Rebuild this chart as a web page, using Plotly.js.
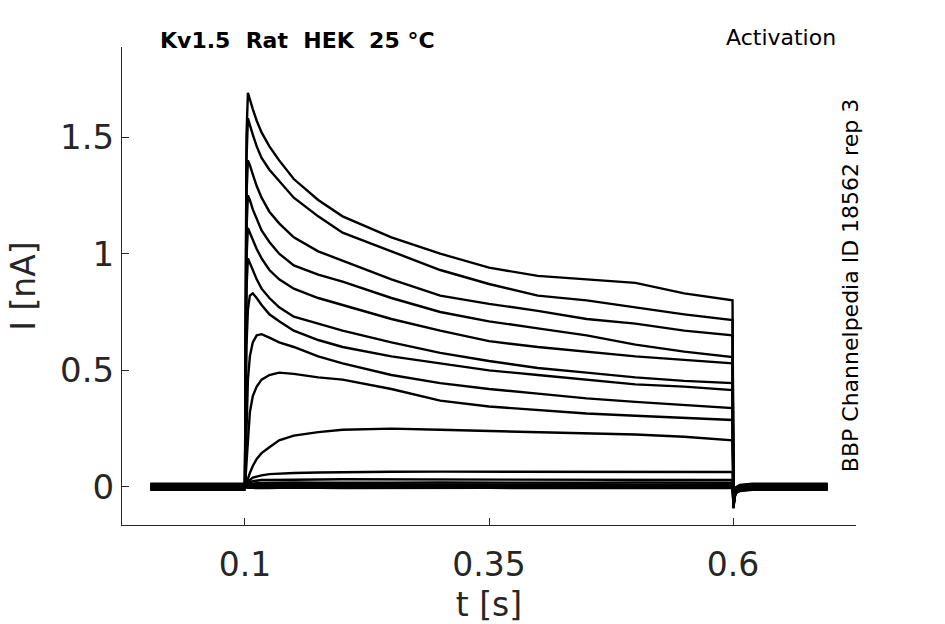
<!DOCTYPE html>
<html>
<head>
<meta charset="utf-8">
<script src="https://cdn.plot.ly/plotly-3.0.1.min.js"></script>
<style>html,body{margin:0;padding:0;background:#fff;}#chart{width:945px;height:624px;}</style>
</head>
<body>
<div id="chart"></div>
<script>
// time points (s)
var tPre = [0.003, 0.02, 0.04, 0.06, 0.08, 0.0995];
var tOn = [0.1, 0.1015, 0.103, 0.105, 0.108, 0.112, 0.117, 0.125, 0.135, 0.15, 0.175, 0.2, 0.25, 0.3, 0.35, 0.4, 0.45, 0.5, 0.55, 0.5995];
var tPost = [0.6005, 0.6015, 0.603, 0.607, 0.62, 0.65, 0.68, 0.697];

// currents during the step (nA), one array per sweep
var sweep1  = [0, 1.50, 1.69, 1.66, 1.62, 1.57, 1.52, 1.46, 1.40, 1.32, 1.23, 1.16, 1.07, 1.00, 0.94, 0.905, 0.89, 0.875, 0.83, 0.80];
var sweep2  = [0, 1.40, 1.58, 1.55, 1.51, 1.46, 1.41, 1.36, 1.31, 1.24, 1.16, 1.09, 1.01, 0.93, 0.87, 0.82, 0.80, 0.77, 0.74, 0.715];
var sweep3  = [0, 1.25, 1.40, 1.38, 1.34, 1.29, 1.24, 1.18, 1.13, 1.07, 1.01, 0.97, 0.89, 0.82, 0.785, 0.755, 0.72, 0.70, 0.67, 0.65];
var sweep4  = [0, 1.10, 1.25, 1.23, 1.19, 1.15, 1.10, 1.05, 1.00, 0.95, 0.91, 0.88, 0.81, 0.75, 0.71, 0.68, 0.65, 0.61, 0.58, 0.557];
var sweep5  = [0, 0.98, 1.11, 1.09, 1.06, 1.02, 0.98, 0.93, 0.89, 0.85, 0.81, 0.78, 0.72, 0.67, 0.625, 0.60, 0.58, 0.56, 0.545, 0.53];
var sweep6  = [0, 0.85, 0.98, 0.96, 0.93, 0.89, 0.85, 0.81, 0.77, 0.73, 0.70, 0.67, 0.62, 0.575, 0.54, 0.51, 0.49, 0.47, 0.455, 0.445];
var sweep7  = [0, 0.60, 0.76, 0.82, 0.83, 0.81, 0.78, 0.74, 0.71, 0.67, 0.63, 0.60, 0.56, 0.53, 0.50, 0.48, 0.46, 0.44, 0.43, 0.415];
var sweep8  = [0, 0.30, 0.46, 0.56, 0.62, 0.65, 0.655, 0.64, 0.62, 0.60, 0.56, 0.53, 0.48, 0.445, 0.42, 0.40, 0.38, 0.365, 0.35, 0.338];
var sweep9  = [0, 0.10, 0.20, 0.32, 0.39, 0.43, 0.46, 0.48, 0.49, 0.485, 0.47, 0.46, 0.42, 0.37, 0.345, 0.33, 0.315, 0.305, 0.295, 0.287];
var sweep10 = [0, 0.015, 0.035, 0.06, 0.09, 0.12, 0.145, 0.17, 0.20, 0.22, 0.235, 0.245, 0.25, 0.245, 0.24, 0.235, 0.23, 0.225, 0.215, 0.20];
var sweep11 = [0, 0.010, 0.020, 0.030, 0.040, 0.045, 0.050, 0.055, 0.058, 0.060, 0.062, 0.064, 0.065, 0.066, 0.066, 0.065, 0.065, 0.066, 0.065, 0.064];
var sweep12 = [0, 0.010, 0.015, 0.020, 0.025, 0.028, 0.030, 0.030, 0.031, 0.032, 0.032, 0.033, 0.033, 0.032, 0.032, 0.031, 0.032, 0.031, 0.030, 0.030];
var sweep13 = [0, 0.006, 0.010, 0.013, 0.015, 0.016, 0.017, 0.018, 0.018, 0.019, 0.018, 0.019, 0.018, 0.019, 0.018, 0.019, 0.018, 0.019, 0.018, 0.018];
var sweep14 = [0, 0.004, 0.006, 0.008, 0.009, 0.010, 0.010, 0.011, 0.010, 0.011, 0.010, 0.011, 0.010, 0.011, 0.010, 0.010, 0.011, 0.010, 0.010, 0.010];
var sweep15 = [0, 0.002, 0.003, 0.003, 0.004, 0.004, 0.003, 0.004, 0.003, 0.004, 0.003, 0.004, 0.003, 0.004, 0.003, 0.004, 0.003, 0.003, 0.004, 0.003];
var sweep16 = [0, -0.003, -0.004, -0.005, -0.004, -0.005, -0.004, -0.005, -0.004, -0.005, -0.004, -0.005, -0.004, -0.005, -0.004, -0.005, -0.004, -0.005, -0.004, -0.004];
var sweeps = [sweep1, sweep2, sweep3, sweep4, sweep5, sweep6, sweep7, sweep8, sweep9, sweep10, sweep11, sweep12, sweep13, sweep14, sweep15, sweep16];

// holding level of each sweep before/after the step (nA)
var holdLevel = [0.006, -0.004, 0.010, -0.008, 0.002, 0.012, -0.012, 0.004, -0.002, 0.008, -0.006, 0.000, 0.014, -0.010, 0.005, -0.003];
// capacitive tail after the step (nA, relative to hold)
var tailShape = [-0.08, -0.035, -0.015, -0.005, 0.0, 0.0, 0.0, 0.0];

var traces = sweeps.map(function (s, k) {
  var x = tPre.concat(tOn, tPost);
  var y = tPre.map(function () { return holdLevel[k]; })
    .concat(s, tailShape.map(function (v) { return v + holdLevel[k]; }));
  return { x: x, y: y, type: 'scatter', mode: 'lines',
           line: { color: '#000000', width: 2.4 }, hoverinfo: 'skip', showlegend: false };
});

var axisColor = '#262626';
var font = 'DejaVu Sans, sans-serif';
var layout = {
  width: 945, height: 624,
  margin: { l: 122, r: 89, t: 47, b: 99 },
  paper_bgcolor: '#ffffff', plot_bgcolor: '#ffffff',
  showlegend: false,
  xaxis: {
    range: [-0.026, 0.726],
    tickvals: [0.1, 0.35, 0.6], ticktext: ['0.1', '0.35', '0.6'],
    ticks: 'inside', ticklen: 7, tickwidth: 1, tickcolor: axisColor,
    showline: true, linecolor: axisColor, linewidth: 1,
    showgrid: false, zeroline: false,
    ticklabelstandoff: 10,
    tickfont: { family: font, size: 33, color: axisColor },
    title: { text: 't [s]', font: { family: font, size: 33, color: axisColor }, standoff: 12 }
  },
  yaxis: {
    range: [-0.163, 1.886],
    tickvals: [0, 0.5, 1, 1.5], ticktext: ['0', '0.5', '1', '1.5'],
    ticks: 'inside', ticklen: 7, tickwidth: 1, tickcolor: axisColor,
    showline: true, linecolor: axisColor, linewidth: 1,
    showgrid: false, zeroline: false,
    tickfont: { family: font, size: 34, color: axisColor },
    title: { text: 'I [nA]', font: { family: font, size: 33, color: axisColor }, standoff: 14 }
  },
  annotations: [
    { text: '<b>Kv1.5  Rat  HEK  25 °C</b>', xref: 'paper', yref: 'paper', x: 0.049, y: 1.0146,
      xanchor: 'left', yanchor: 'middle', showarrow: false, font: { family: font, size: 22, color: '#000' } },
    { text: 'Activation', xref: 'paper', yref: 'paper', x: 0.9755, y: 1.019,
      xanchor: 'right', yanchor: 'middle', showarrow: false, font: { family: font, size: 22, color: '#000' } },
    { text: 'BBP Channelpedia ID 18562 rep 3', xref: 'paper', yref: 'paper', x: 0.992, y: 0.5,
      xanchor: 'center', yanchor: 'middle', textangle: -90, showarrow: false, font: { family: font, size: 22, color: '#000' } }
  ]
};

Plotly.newPlot('chart', traces, layout, { staticPlot: true, displayModeBar: false });
</script>
</body>
</html>
